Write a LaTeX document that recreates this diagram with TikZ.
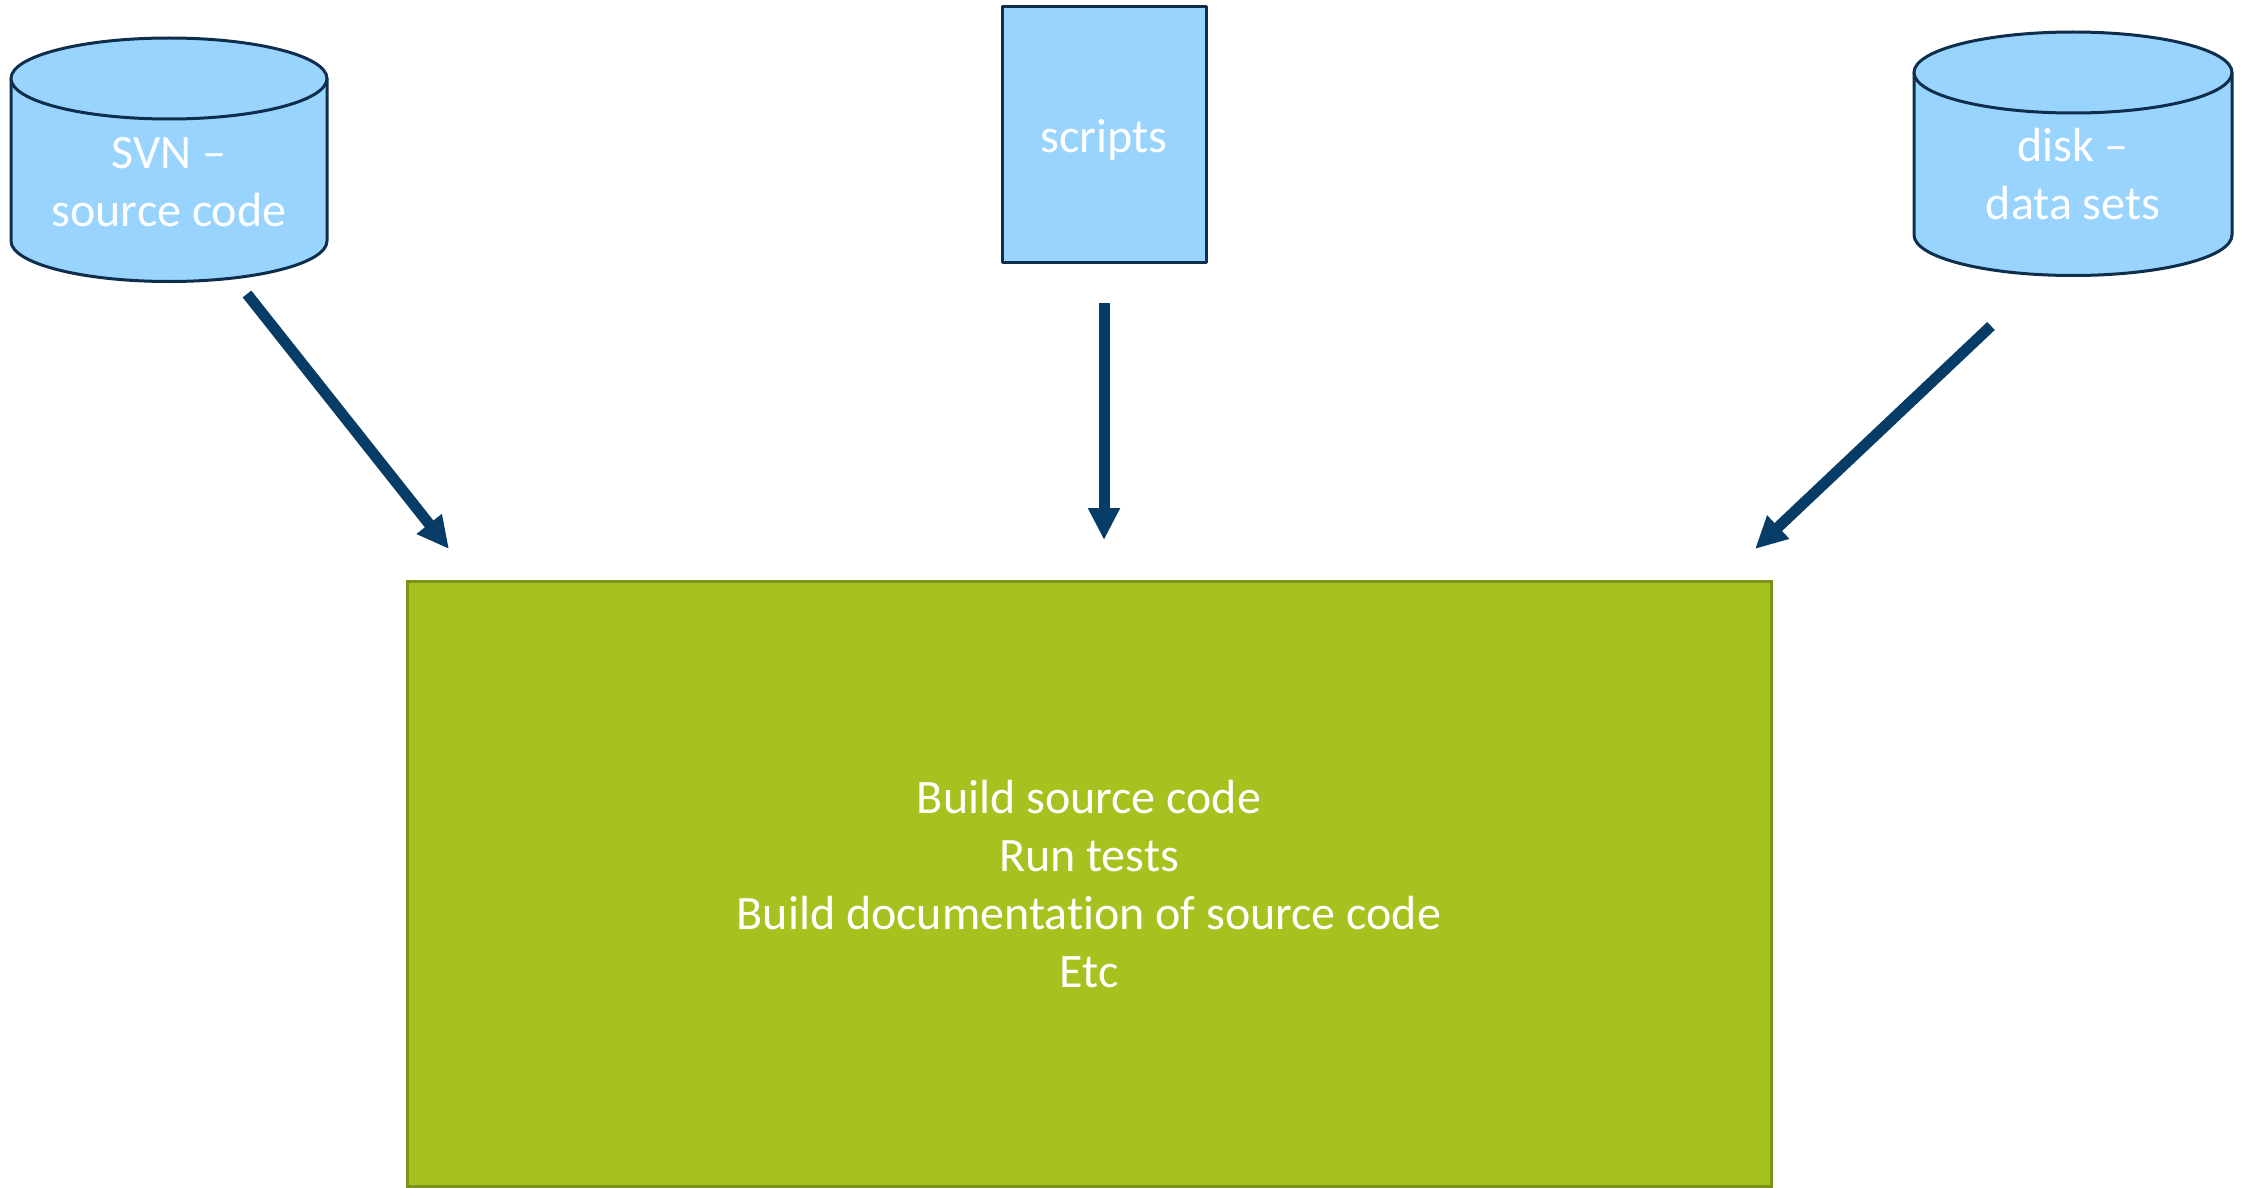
\documentclass[tikz,border=0pt]{standalone}
\usepackage{fontspec}
\setmainfont{Carlito}[Ligatures={NoCommon}]
\usetikzlibrary{arrows.meta}

\definecolor{cylfill}{HTML}{99D4FF}
\definecolor{cylline}{HTML}{0E2E4C}
\definecolor{buildfill}{HTML}{A5C21F}
\definecolor{buildline}{HTML}{7A9419}
\definecolor{flow}{HTML}{073C66}

\tikzset{
  store/.style={draw=cylline, line width=3pt, fill=cylfill, line join=round},
  label/.style={text=white, align=center, inner sep=0pt,
    font=\fontsize{48}{58}\selectfont},
  flowarrow/.style={draw=flow, line width=11pt,
    -{Triangle[length=32pt,width=30pt]}},
}

% draws a vertical cylinder: centre x, x radius, top y, bottom y, y radius
\newcommand{\drumshape}[5]{%
  \fill[cylfill] ({#1-#2},#3) -- ({#1-#2},#4)
     arc[start angle=180, end angle=0, x radius=#2, y radius=#5]
     -- ({#1+#2},#3) -- cycle;
  \draw[store] ({#1-#2},#3) -- ({#1-#2},#4)
     arc[start angle=180, end angle=0, x radius=#2, y radius=#5]
     -- ({#1+#2},#3);
  \draw[store] (#1,#3) ellipse[x radius=#2, y radius=#5];
}

\begin{document}
\begin{tikzpicture}[x=1pt, y=-1pt]
  \useasboundingbox (0,0) rectangle (2249,1188);

  % sources
  \drumshape{169}{158}{78.5}{241}{40.5}
  \node[label] (svn) at (169,182) {SVN --\\source code};

  \draw[store] (1002,7) rectangle (1206,262);
  \node[label] (scripts) at (1104,140) {scripts};

  \drumshape{2073}{159}{72.5}{235}{40.5}
  \node[label] (disk) at (2073,174) {disk --\\data sets};

  % build stage
  \draw[draw=buildline, fill=buildfill, line width=3pt] (407,581) rectangle (1771,1186);
  \node[label] (build) at (1089,884)
    {Build source code\\Run tests\\Build documentation of source code\\Etc};

  % flow into the build stage
  \coordinate (svnout) at (247,294);
  \coordinate (svnin) at (449,549);
  \coordinate (scrout) at (1104,303);
  \coordinate (scrin) at (1104,540);
  \coordinate (diskout) at (1991,326);
  \coordinate (diskin) at (1755,549);

  \draw[flowarrow] (svnout) -- (svnin);
  \draw[flowarrow] (scrout) -- (scrin);
  \draw[flowarrow] (diskout) -- (diskin);
\end{tikzpicture}
\end{document}
